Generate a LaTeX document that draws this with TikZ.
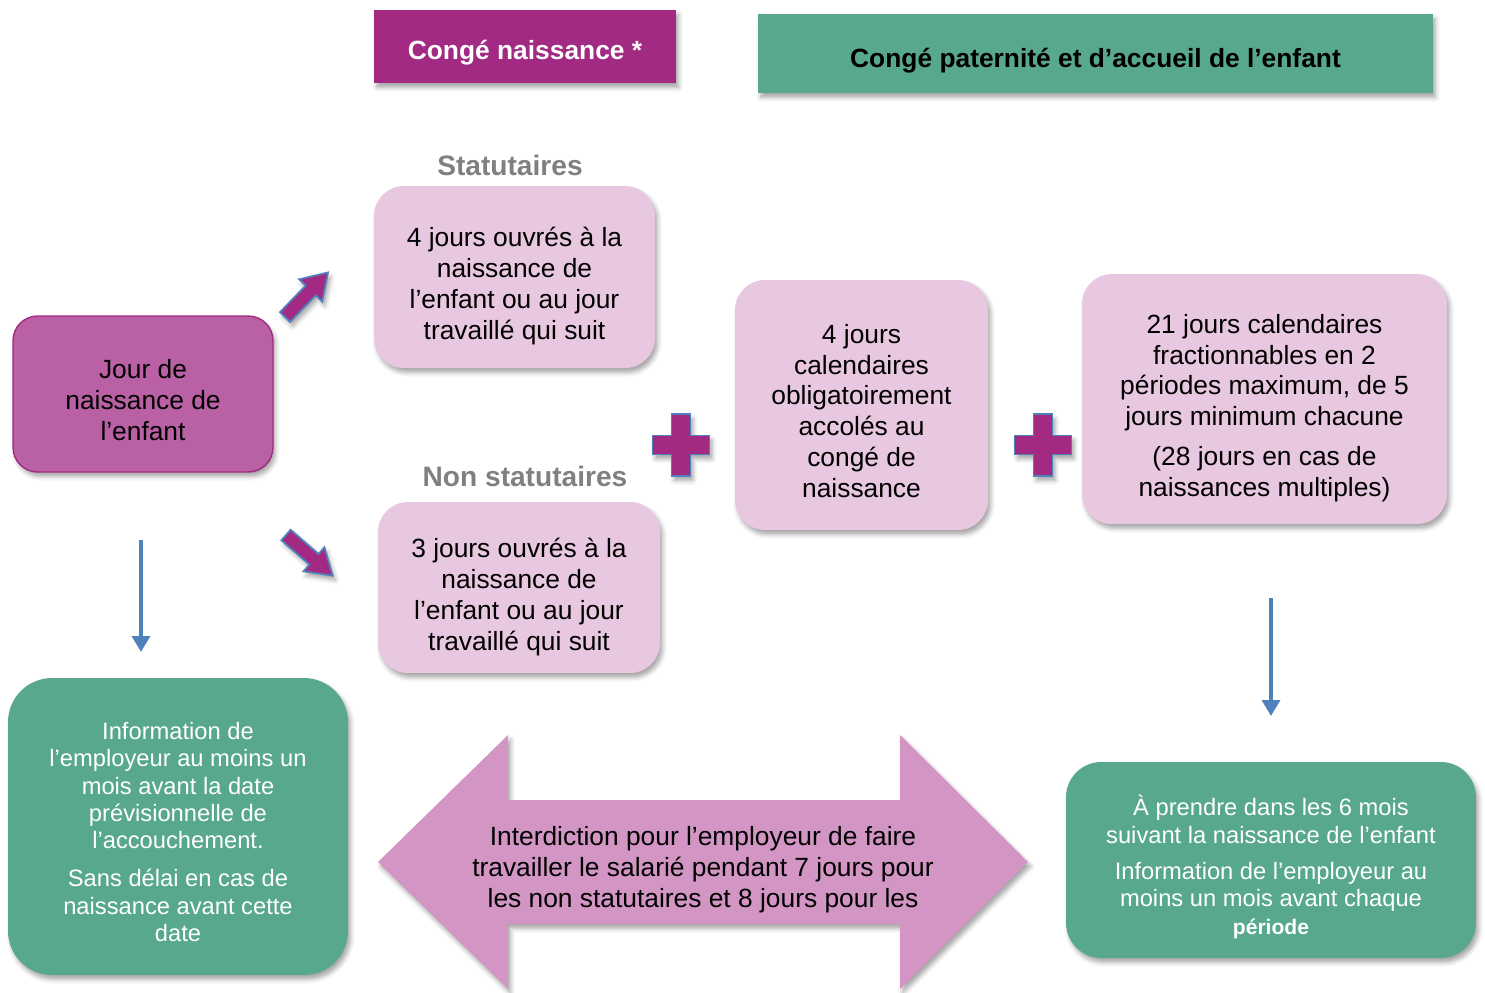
\documentclass[tikz,border=0pt]{standalone}
\usepackage{fontspec}
\setmainfont{Liberation Sans}
\usetikzlibrary{arrows.meta,shadows.blur}
\definecolor{prune}{RGB}{162,42,131}
\definecolor{mauve}{RGB}{186,96,165}
\definecolor{rose}{RGB}{232,199,224}
\definecolor{rosefl}{RGB}{210,149,196}
\definecolor{vert}{RGB}{88,168,139}
\definecolor{bleu}{RGB}{79,129,189}
\tikzset{>=Stealth,every node/.style={font=\fontsize{15}{17.6}\selectfont,align=center},
  ombre/.style={blur shadow={shadow xshift=1.5pt,shadow yshift=-2.5pt,shadow opacity=35,shadow blur radius=2.5pt}},
  titre/.style={ombre,fill=#1,inner sep=0pt},
  rosebox/.style={ombre,fill=rose,rounded corners=17pt,inner sep=0pt},
  vertbox/.style={ombre,fill=vert,rounded corners=25pt,inner sep=0pt},
  verttxt/.style={text=white,font=\fontsize{13.5}{15.6}\selectfont},
  gras/.style={font=\bfseries\fontsize{15}{17.6}\selectfont},
  soustitre/.style={text=black!50,font=\bfseries\fontsize{16}{19}\selectfont},
  fleche/.style={draw=bleu,line width=2.6pt,-{Triangle[width=10pt,length=9pt]}},
  bloc/.style={fill=prune,draw=bleu,line width=1pt,ombre}}

\begin{document}
\begin{tikzpicture}[x=0.02cm,y=-0.02cm]
\useasboundingbox (0,0) rectangle (1485,992);
% titres
\node[titre=prune,minimum width=6.04cm,minimum height=1.46cm] (conge) at (525,46.5) {};
\node[gras,text=white] (tconge) at (525,53) {Congé naissance *};
\node[titre=vert,minimum width=13.5cm,minimum height=1.58cm] (pater) at (1095.5,53.5) {};
\node[gras] (tpater) at (1095.5,61) {Congé paternité et d’accueil de l’enfant};
% naissance
\node[ombre,fill=mauve,draw=prune,line width=.8pt,rounded corners=14pt,minimum width=5.2cm,minimum height=3.12cm] (jour) at (143,394) {};
\node (tjour) at (143,400) {Jour de\\naissance de\\l’enfant};
\node[soustitre] (stat) at (510,165) {Statutaires};
\node[soustitre] (nonstat) at (525,476) {Non statutaires};
\node[rosebox,minimum width=5.62cm,minimum height=3.64cm] (jstat) at (514.5,277) {};
\node (tjstat) at (514.5,286) {4 jours ouvrés à la\\naissance de\\l’enfant ou au jour\\travaillé qui suit};
\node[rosebox,minimum width=5.64cm,minimum height=3.42cm] (jnonstat) at (519,587.5) {};
\node (tjnonstat) at (519,597) {3 jours ouvrés à la\\naissance de\\l’enfant ou au jour\\travaillé qui suit};
\node[rosebox,minimum width=5.06cm,minimum height=5cm] (jcal) at (861.5,405) {};
\node (tjcal) at (861.5,411) {4 jours\\calendaires\\obligatoirement\\accolés au\\congé de\\naissance};
\node[rosebox,minimum width=7.3cm,minimum height=5cm] (jfrac) at (1264.5,399) {};
\node (tjfrac) at (1264.5,408) {21 jours calendaires\\fractionnables en 2\\périodes maximum, de 5\\jours minimum chacune\\[5pt](28 jours en cas de\\naissances multiples)};
% fleches pleines
\begin{scope}[shift={(285,317)},rotate=46]
\filldraw[bloc] (0,-7)--(37,-7)--(37,-16)--(62,0)--(37,16)--(37,7)--(0,7)--cycle;
\end{scope}
\begin{scope}[shift={(286,535)},rotate=-41]
\filldraw[bloc] (0,-7)--(37,-7)--(37,-16)--(62,0)--(37,16)--(37,7)--(0,7)--cycle;
\end{scope}
\foreach \px in {681,1043}{\begin{scope}[shift={(\px,445)}]
\filldraw[bloc] (-9.5,-31)--(9.5,-31)--(9.5,-9.5)--(28.5,-9.5)--(28.5,9.5)--(9.5,9.5)--(9.5,31)--(-9.5,31)--(-9.5,9.5)--(-28.5,9.5)--(-28.5,-9.5)--(-9.5,-9.5)--cycle;
\end{scope}}
% bas
\node[vertbox,minimum width=6.8cm,minimum height=5.94cm] (infoemp) at (178,826.5) {};
\node[verttxt] (tinfoemp) at (178,832) {Information de\\l’employeur au moins un\\mois avant la date\\prévisionnelle de\\l’accouchement.\\[6pt]Sans délai en cas de\\naissance avant cette\\date};
\node[vertbox,rounded corners=20pt,minimum width=8.2cm,minimum height=3.92cm] (periode) at (1271,860) {};
\node[verttxt] (tperiode) at (1271,867) {À prendre dans les 6 mois\\suivant la naissance de l’enfant\\[5pt]Information de l’employeur au\\moins un mois avant chaque\\{\bfseries\fontsize{12}{14}\selectfont période}};
\fill[rosefl,ombre] (378,862)--(508,735)--(508,800)--(900,800)--(900,735)--(1028,862)--(900,989)--(900,924)--(508,924)--(508,989)--cycle;
\node (interdit) at (703,870) {Interdiction pour l’employeur de faire\\travailler le salarié pendant 7 jours pour\\les non statutaires et 8 jours pour les};
\coordinate (b1) at (141,540);\coordinate (b2) at (141,652);
\coordinate (b3) at (1271,598);\coordinate (b4) at (1271,716);
\draw[fleche] (b1)--(b2);\draw[fleche] (b3)--(b4);
\end{tikzpicture}
\end{document}
